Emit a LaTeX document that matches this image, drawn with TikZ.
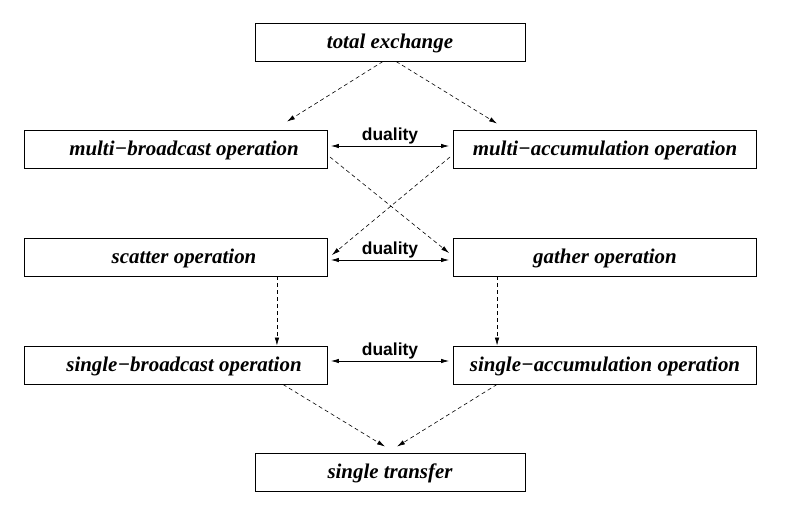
\documentclass[tikz,border=0pt]{standalone}
\usepackage{fontspec}
\setmainfont{Liberation Serif}
\newfontfamily\dualfont{Liberation Sans}
\usetikzlibrary{arrows.meta,calc}
\definecolor{OpInk}{HTML}{000000}
\tikzset{
  opbox/.style={draw=OpInk,line width=0.9pt,minimum height=38bp,inner sep=0pt,
                text height=17bp,text depth=3.5bp,
                text=OpInk,font=\fontsize{21}{24}\selectfont\bfseries\itshape},
  opwide/.style={opbox,minimum width=303bp},
  opleft/.style={opwide,execute at begin node={\hspace*{16bp}}},
  opnarrow/.style={opbox,minimum width=270bp},
  derive/.style={-{Latex[length=8bp,width=4.5bp]},OpInk,line width=0.6pt,
                 dash pattern=on 4bp off 3bp},
  dual/.style={{Latex[length=8bp,width=4.5bp]}-{Latex[length=8bp,width=4.5bp]},
               OpInk,line width=0.8pt},
  duallabel/.style={text=OpInk,font=\fontsize{17.5}{20}\selectfont\dualfont\bfseries,
                    inner sep=1bp},
}

\begin{document}
\begin{tikzpicture}[x=1bp,y=-1bp]
  \useasboundingbox (0,0) rectangle (796,506);

  \node[opnarrow] (total) at (390,42) {total exchange};
  \node[opleft] (mbc) at (176,149) {multi−broadcast operation};
  \node[opwide] (mac) at (605,149) {multi−accumulation operation};
  \node[opleft] (sct) at (176,257) {scatter operation};
  \node[opwide] (gth) at (605,257) {gather operation};
  \node[opleft] (sbc) at (176,365) {single−broadcast operation};
  \node[opwide] (sac) at (605,365) {single−accumulation operation};
  \node[opnarrow] (single) at (390,472) {single transfer};

  % total exchange down to the multi- operations
  \draw[derive] ($(total.south)+(-7,0)$) -- ($(mbc.north east)+(-41,-8)$);
  \draw[derive] ($(total.south)+(6,0)$) -- ($(mac.north west)+(44,-6)$);

  % dualities
  \draw[dual] ($(mbc.east)+(3,-3)$) -- node[duallabel,above] {duality} ($(mac.west)+(-4,-3)$);
  \draw[dual] ($(sct.east)+(3,3)$) -- node[duallabel,above] {duality} ($(gth.west)+(-4,3)$);
  \draw[dual] ($(sbc.east)+(3,-4)$) -- node[duallabel,above] {duality} ($(sac.west)+(-4,-4)$);

  % crossing
  \draw[derive] ($(mbc.east)+(2,8)$) -- ($(gth.west)+(-4,-4)$);
  \draw[derive] ($(mac.west)+(-3,8)$) -- ($(sct.east)+(4,-2)$);

  % down to the single- operations
  \draw[derive] ($(sct.south east)+(-51,0)$) -- ($(sbc.north east)+(-51,0)$);
  \draw[derive] ($(gth.south west)+(44,0)$) -- ($(sac.north west)+(44,0)$);

  % single transfer
  \draw[derive] ($(sbc.south east)+(-45,0)$) -- ($(single.north)+(-5,-6)$);
  \draw[derive] ($(sac.south west)+(44,0)$) -- ($(single.north)+(7,-6)$);
\end{tikzpicture}
\end{document}
